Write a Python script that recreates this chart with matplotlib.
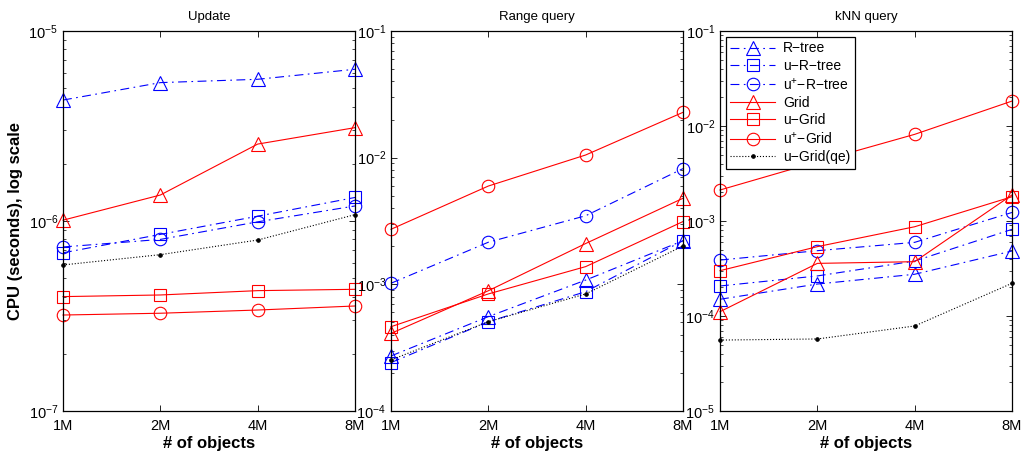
import matplotlib
matplotlib.use("Agg")
import matplotlib.pyplot as plt
import numpy as np
from matplotlib.ticker import LogLocator, NullFormatter

plt.rcParams['font.family'] = ['Liberation Sans', 'DejaVu Sans']
plt.rcParams['mathtext.fontset'] = 'custom'
plt.rcParams['mathtext.rm'] = 'Liberation Sans'
plt.rcParams['mathtext.it'] = 'Liberation Sans'
plt.rcParams['mathtext.bf'] = 'Liberation Sans:bold'

categories = ['1M', '2M', '4M', '8M']
series_names = ['R\u2212tree', 'u\u2212R\u2212tree', 'u$^{+}$\u2212R\u2212tree',
                'Grid', 'u\u2212Grid', 'u$^{+}$\u2212Grid', 'u\u2212Grid(qe)']

# Update
update_rtree = [4.33e-6, 5.35e-6, 5.57e-6, 6.29e-6]
update_urtree = [6.8e-7, 8.5e-7, 1.06e-6, 1.33e-6]
update_uprtree = [7.3e-7, 8.0e-7, 9.9e-7, 1.2e-6]
update_grid = [1.01e-6, 1.37e-6, 2.54e-6, 3.10e-6]
update_ugrid = [4.0e-7, 4.08e-7, 4.3e-7, 4.37e-7]
update_upgrid = [3.2e-7, 3.27e-7, 3.4e-7, 3.57e-7]
update_ugridqe = [5.87e-7, 6.65e-7, 7.94e-7, 1.08e-6]

# Range query
range_rtree = [2.72e-4, 5.56e-4, 1.08e-3, 2.21e-3]
range_urtree = [2.41e-4, 5.07e-4, 8.75e-4, 2.21e-3]
range_uprtree = [1.02e-3, 2.15e-3, 3.48e-3, 8.2e-3]
range_grid = [4.1e-4, 8.9e-4, 2.1e-3, 4.78e-3]
range_ugrid = [4.63e-4, 8.4e-4, 1.38e-3, 3.13e-3]
range_upgrid = [2.72e-3, 5.97e-3, 1.05e-2, 2.28e-2]
range_ugridqe = [2.53e-4, 5.07e-4, 8.4e-4, 2.01e-3]

# kNN query
knn_rtree = [1.5e-4, 2.17e-4, 2.75e-4, 4.83e-4]
knn_urtree = [2.07e-4, 2.64e-4, 3.79e-4, 8.17e-4]
knn_uprtree = [3.88e-4, 4.87e-4, 5.96e-4, 1.23e-3]
knn_grid = [1.11e-4, 3.58e-4, 3.73e-4, 1.88e-3]
knn_ugrid = [3.0e-4, 5.37e-4, 8.7e-4, 1.8e-3]
knn_upgrid = [2.12e-3, 4.2e-3, 8.17e-3, 1.83e-2]
knn_ugridqe = [5.58e-5, 5.73e-5, 7.85e-5, 2.21e-4]

panel_titles = ['Update', 'Range query', 'kNN query']
panel_ylims = [(1e-7, 1e-5), (1e-4, 1e-1), (1e-5, 1e-1)]
panel_data = [
    [update_rtree, update_urtree, update_uprtree, update_grid, update_ugrid, update_upgrid, update_ugridqe],
    [range_rtree, range_urtree, range_uprtree, range_grid, range_ugrid, range_upgrid, range_ugridqe],
    [knn_rtree, knn_urtree, knn_uprtree, knn_grid, knn_ugrid, knn_upgrid, knn_ugridqe],
]

dashdot = (0, (8, 4, 1.5, 4))
styles = [
    dict(color='#0000ff', ls=dashdot, marker='^', ms=10, mfc='none'),
    dict(color='#0000ff', ls=dashdot, marker='s', ms=8, mfc='none'),
    dict(color='#0000ff', ls=dashdot, marker='o', ms=9, mfc='none'),
    dict(color='#ff0000', ls='-', marker='^', ms=10, mfc='none'),
    dict(color='#ff0000', ls='-', marker='s', ms=8, mfc='none'),
    dict(color='#ff0000', ls='-', marker='o', ms=9, mfc='none'),
    dict(color='black', ls=':', marker='.', ms=5, mfc='black'),
]

fig = plt.figure(figsize=(10.26, 4.58), dpi=100)
lefts = [63 / 1026, 391 / 1026, 720 / 1026]
w = 292 / 1026
b = 1 - 411 / 458
h = 380 / 458
x = np.arange(len(categories))

for i in range(3):
    ax = fig.add_axes([lefts[i], b, w, h])
    for data, st, name in zip(panel_data[i], styles, series_names):
        ax.plot(x, data, label=name, lw=0.8, mew=0.8, clip_on=False, **st)
    ax.set_yscale('log')
    ax.set_ylim(*panel_ylims[i])
    ax.set_xlim(x[0], x[-1])
    ax.set_xticks(x)
    ax.set_xticklabels(categories)
    ax.yaxis.set_minor_locator(LogLocator(base=10, subs=np.arange(2, 10)))
    ax.yaxis.set_minor_formatter(NullFormatter())
    ax.tick_params(which='both', direction='in', top=True, right=True, labelsize=10.5)
    ax.tick_params(which='major', length=4, width=0.6)
    ax.tick_params(which='minor', length=2.5, width=0.5)
    ax.tick_params(axis='x', pad=6)
    for sp in ax.spines.values():
        sp.set_linewidth(0.9)
    ax.set_title(panel_titles[i], fontsize=9.5, pad=8)
    ax.set_xlabel('# of objects', fontsize=12, fontweight='bold', labelpad=2)
    if i == 0:
        ax.set_ylabel('CPU (seconds), log scale', fontsize=12, fontweight='bold', labelpad=4)
    if i == 2:
        leg = ax.legend(loc='upper left', fontsize=10, handlelength=3.2, borderaxespad=0.4,
                        fancybox=False, framealpha=1, edgecolor='black', labelspacing=0.25,
                        borderpad=0.35, handletextpad=0.6)
        leg.get_frame().set_linewidth(0.9)
        leg.set_zorder(5)

fig.savefig('out.png', dpi=100)
